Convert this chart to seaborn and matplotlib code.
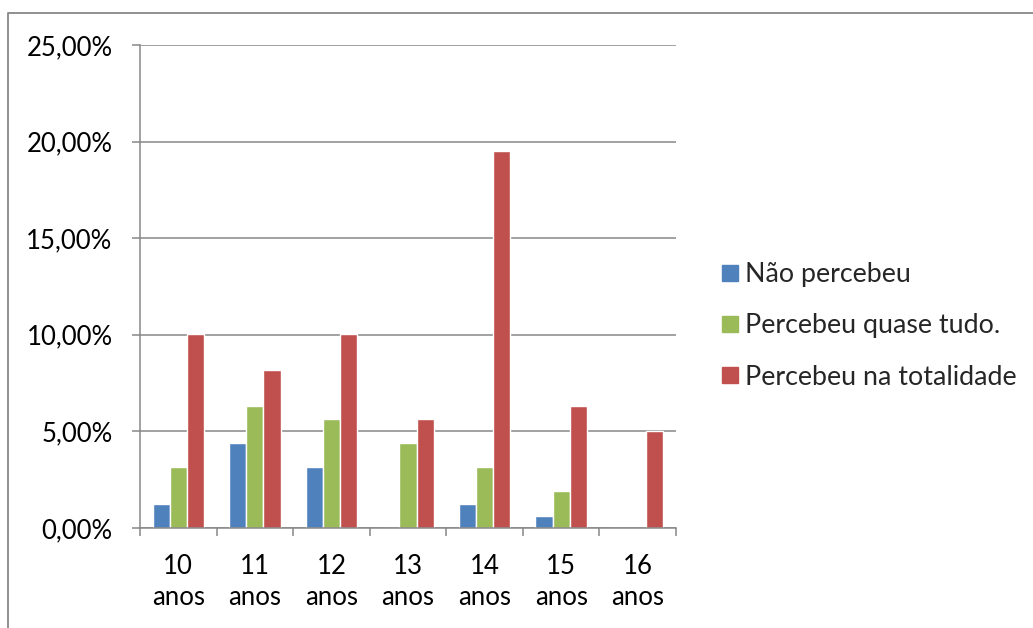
import matplotlib
matplotlib.use("Agg")
import matplotlib.pyplot as plt
from matplotlib.lines import Line2D
from matplotlib.ticker import FuncFormatter, FixedLocator
import numpy as np
import pandas as pd
import seaborn as sns

# data (percent of respondents)
idades = ["10\nanos", "11\nanos", "12\nanos", "13\nanos", "14\nanos", "15\nanos", "16\nanos"]
nao_percebeu = [1.26, 4.40, 3.14, 0.0, 1.26, 0.63, 0.0]
quase_tudo = [3.14, 6.29, 5.66, 4.40, 3.14, 1.89, 0.0]
totalidade = [10.06, 8.18, 10.06, 5.66, 19.50, 6.29, 5.03]
series_names = ["Não percebeu", "Percebeu quase tudo.", "Percebeu na totalidade"]
cores = ["#4F81BD", "#9BBB59", "#C0504D"]
y_ticks = [0, 5, 10, 15, 20, 25]

df = pd.DataFrame({
    "idade": idades * 3,
    "valor": nao_percebeu + quase_tudo + totalidade,
    "serie": sum([[s] * len(idades) for s in series_names], []),
})

sns.set_theme(style="white")
plt.rcParams["font.family"] = ["Lato", "DejaVu Sans"]
fs = 18.5
grey = "#878787"

W, H = 1033, 628
fig = plt.figure(figsize=(W / 100, H / 100), dpi=100)
ax = fig.add_axes([140 / W, 1 - 528 / H, 536 / W, 483 / H])

sns.barplot(data=df, x="idade", y="valor", hue="serie", hue_order=series_names,
            palette=cores, width=0.67, saturation=1, ax=ax, legend=False)

ax.set_ylim(0, 25)
ax.set_xlim(-0.5, len(idades) - 0.5)
ax.yaxis.set_major_locator(FixedLocator(y_ticks))
ax.yaxis.set_major_formatter(FuncFormatter(lambda v, p: f"{v:.2f}%".replace(".", ",")))
ax.yaxis.grid(True, color=grey, linewidth=1.1)
ax.set_axisbelow(True)
ax.set_xlabel("")
ax.set_ylabel("")

for s in ["top", "right"]:
    ax.spines[s].set_visible(False)
for s in ["left", "bottom"]:
    ax.spines[s].set_color(grey)
    ax.spines[s].set_linewidth(1.1)

ax.tick_params(axis="y", left=True, length=5.8, width=1.1, color=grey,
               pad=14, labelsize=fs, labelcolor="black")
ax.set_xticks(np.arange(len(idades)))
ax.set_xticklabels(idades, fontsize=fs, linespacing=1.3)
ax.set_xticks(np.arange(len(idades) + 1) - 0.5, minor=True)
ax.tick_params(axis="x", which="major", length=0, pad=19, labelcolor="black")
ax.tick_params(axis="x", which="minor", bottom=True, length=5.8, width=1.1, color=grey)

handles = [Line2D([], [], marker="s", linestyle="", markersize=11,
                  markerfacecolor=c, markeredgecolor=c) for c in cores]
fig.legend(handles, series_names, loc="upper left",
           bbox_to_anchor=(722 / W, 1 - 262 / H), frameon=False,
           fontsize=19.3, handlelength=0.6, handletextpad=0.25,
           labelspacing=0.98, borderpad=0, borderaxespad=0)

# outer chart border (only top and left edges visible in the crop)
fig.add_artist(Line2D([8 / W, 8 / W, 1.0], [0.0, 1 - 13 / H, 1 - 13 / H],
                      transform=fig.transFigure, color=grey, linewidth=1.3))

fig.savefig("out.png", dpi=100)
